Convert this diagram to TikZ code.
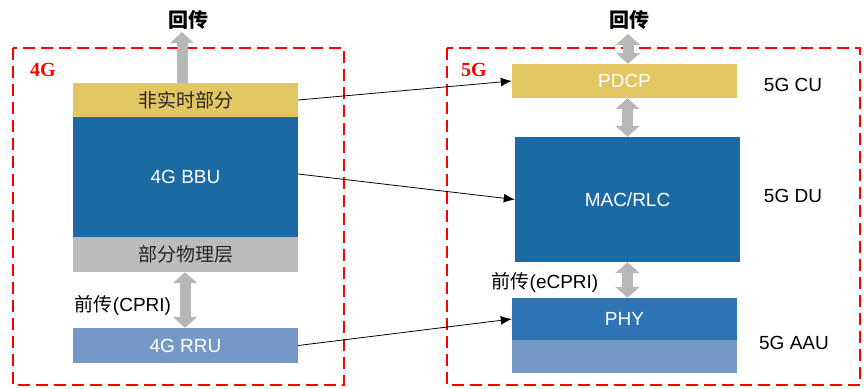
\documentclass[tikz,border=0pt]{standalone}
\usepackage{fontspec}
\setmainfont{Liberation Sans}
\newfontfamily\cjk{Noto Sans CJK SC}
\newfontfamily\redfont{Liberation Serif}
\usetikzlibrary{arrows.meta}
\definecolor{nrtyellow}{HTML}{E2C662}
\definecolor{bbublue}{HTML}{1C6AA4}
\definecolor{phyblue}{HTML}{2E75B6}
\definecolor{rrublue}{HTML}{7599C7}
\definecolor{layergray}{HTML}{BCBCBC}
\definecolor{arrowgray}{HTML}{B7B7B7}
\begin{document}
\begin{tikzpicture}[x=1pt,y=-1pt,
	layer/.style={rectangle,inner sep=0pt,minimum width=225pt,text=white,font=\fontsize{19}{22}\selectfont},
	upblock/.style={arrowgray,line width=11pt,-{Triangle[width=23pt,length=11pt]}},
	dblblock/.style={arrowgray,line width=11pt,{Triangle[width=24pt,length=11pt]}-{Triangle[width=24pt,length=11pt]}},
	link/.style={black,line width=0.8pt,-{Latex[length=11pt,width=9pt]}},
	side/.style={font=\fontsize{19}{22}\selectfont}]
		\useasboundingbox (0,0) rectangle (864,388);
		% frames
		\draw[red,line width=1.5pt,dash pattern=on 12pt off 6pt] (13,48) rectangle (344,385);
		\draw[red,line width=1.5pt,dash pattern=on 12pt off 6pt] (447,48) rectangle (860,385);
		\node[text=red,font=\redfont\bfseries\fontsize{20}{22}\selectfont] (lab4) at (43,70) {4G};
		\node[text=red,font=\redfont\bfseries\fontsize{20}{22}\selectfont] (lab5) at (474,70) {5G};
		
		% 4G stack
		\node[layer,fill=nrtyellow,minimum height=34pt,text=black!85,font=\cjk\fontsize{19}{22}\selectfont] (nrt) at (185.5,100) {非实时部分};
		\node[layer,fill=bbublue,minimum height=120pt] (bbu) at (185.5,177) {4G BBU};
		\node[layer,fill=layergray,minimum height=35pt,text=black!85,font=\cjk\fontsize{19}{22}\selectfont] (pphy) at (185.5,254.5) {部分物理层};
		\node[layer,fill=rrublue,minimum height=35pt] (rru) at (185.5,345.5) {4G RRU};
		\node[font=\fontsize{19}{22}\selectfont] (fh4) at (123,305) {{\cjk 前传}(CPRI)};
		\node[font=\cjk\bfseries\fontsize{20}{22}\selectfont] (bh4) at (188,20) {回传};
		\coordinate (up4) at (182,32);
		
		% 5G stack
		\node[layer,fill=nrtyellow,minimum height=34pt] (pdcp) at (624.5,81) {PDCP};
		\node[layer,fill=bbublue,minimum height=125pt] (mac) at (627.5,199.5) {MAC/RLC};
		\node[layer,fill=phyblue,minimum height=42pt] (phy) at (624.5,319) {PHY};
		\node[layer,fill=rrublue,minimum height=33pt] (aau) at (624.5,356.5) {};
		\node[font=\fontsize{19}{22}\selectfont] (fh5) at (545,282) {{\cjk 前传}(eCPRI)};
		\node[font=\cjk\bfseries\fontsize{20}{22}\selectfont] (bh5) at (629,20) {回传};
		\coordinate (up5) at (628,34);
		\node[side] (cu) at (793,85) {5G CU};
		\node[side] (du) at (793,196) {5G DU};
		\node[side] (au) at (794,343) {5G AAU};
		
		% block arrows
		\draw[upblock] (up4 |- nrt.north) -- (up4);
		\draw[dblblock] (up5) -- (up5 |- pdcp.north);
		\draw[dblblock] (pdcp.south -| mac.north) -- (mac.north);
		\draw[dblblock] (mac.south) -- (mac.south |- phy.north);
		\draw[dblblock] (185,0 |- pphy.south) -- (185,0 |- rru.north);
		
		% links
		\draw[link] (nrt.east) -- (pdcp.west);
		\draw[link] ([yshift=3pt]bbu.east) -- (mac.west);
		\draw[link] (rru.east) -- (phy.west);
\end{tikzpicture}
\end{document}
